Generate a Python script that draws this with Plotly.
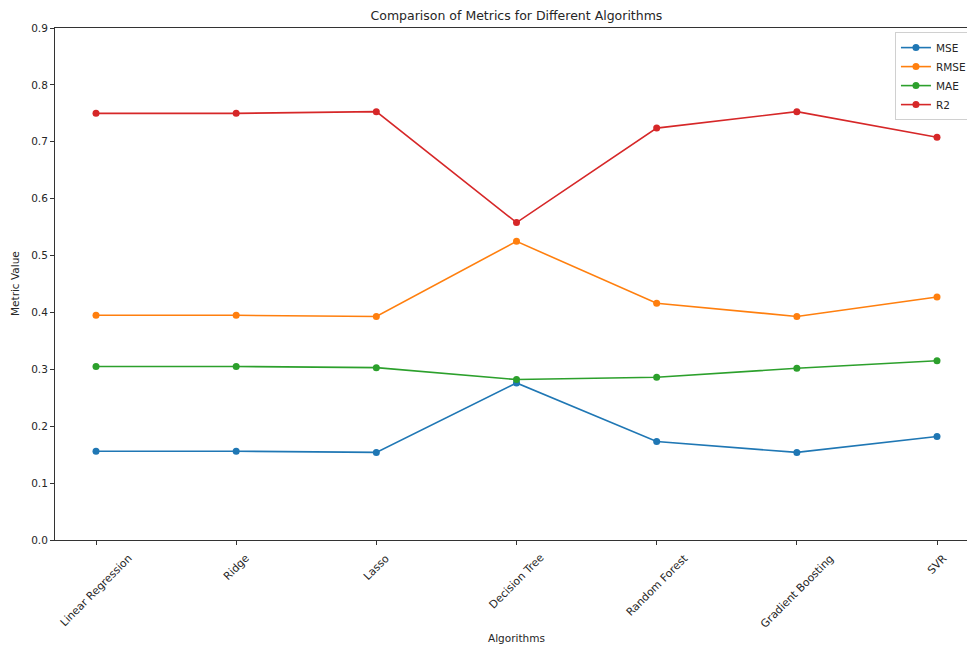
import plotly.graph_objects as go

# Algorithms compared and their evaluation metrics
algorithms = ["Linear Regression", "Ridge", "Lasso", "Decision Tree",
              "Random Forest", "Gradient Boosting", "SVR"]
mse = [0.156, 0.156, 0.154, 0.276, 0.173, 0.154, 0.182]
rmse = [0.395, 0.395, 0.393, 0.525, 0.416, 0.393, 0.427]
mae = [0.305, 0.305, 0.303, 0.282, 0.286, 0.302, 0.315]
r2 = [0.750, 0.750, 0.753, 0.558, 0.724, 0.753, 0.708]
y_ticks = [0.0, 0.1, 0.2, 0.3, 0.4, 0.5, 0.6, 0.7, 0.8, 0.9]

series = [("MSE", mse, "#1f77b4"), ("RMSE", rmse, "#ff7f0e"),
          ("MAE", mae, "#2ca02c"), ("R2", r2, "#d62728")]

FONT = "DejaVu Sans"
TXT = "#262626"

fig = go.Figure()
for name, vals, color in series:
    fig.add_trace(go.Scatter(
        x=list(range(len(algorithms))), y=vals, name=name, mode="lines+markers",
        line=dict(color=color, width=1.6),
        marker=dict(color=color, size=7),
    ))

annotations = []
# rotated category labels, centred under each tick
for i, label in enumerate(algorithms):
    annotations.append(dict(
        x=i, y=0, xref="x", yref="paper", text=label, showarrow=False,
        textangle=-45, xanchor="center", yanchor="top", yshift=-9,
        font=dict(family=FONT, size=10.8, color=TXT),
    ))
annotations.append(dict(
    x=0.506, y=0, xref="paper", yref="paper", text="Algorithms", showarrow=False,
    xanchor="center", yanchor="middle", yshift=-98,
    font=dict(family=FONT, size=10.5, color=TXT),
))
annotations.append(dict(
    x=0, y=0.5, xref="paper", yref="paper", text="Metric Value", showarrow=False,
    textangle=-90, xanchor="center", yanchor="middle", xshift=-40,
    font=dict(family=FONT, size=10.5, color=TXT),
))

fig.update_layout(
    width=967, height=647,
    margin=dict(l=55, r=0, t=28, b=107, autoexpand=False),
    paper_bgcolor="white", plot_bgcolor="white",
    title=dict(text="Comparison of Metrics for Different Algorithms",
               x=0.506, xref="paper", xanchor="center",
               y=1 - 16 / 647, yref="container", yanchor="middle",
               font=dict(family=FONT, size=12.5, color=TXT)),
    xaxis=dict(range=[-0.2925, 6.214], tickvals=list(range(len(algorithms))),
               showticklabels=False, ticks="outside", ticklen=4, tickcolor="#333",
               showgrid=False, zeroline=False, showline=True, linecolor="#333",
               linewidth=1, mirror=True),
    yaxis=dict(range=[0, 0.9], tickvals=y_ticks,
               ticktext=[f"{v:.1f}" for v in y_ticks],
               ticks="outside", ticklen=4, tickcolor="#333",
               tickfont=dict(family=FONT, size=10.5, color=TXT),
               showgrid=False, zeroline=False, showline=True, linecolor="#333",
               linewidth=1),
    legend=dict(x=0.921, y=0.992, xanchor="left", yanchor="top",
                bgcolor="white", bordercolor="#d0d0d0", borderwidth=1,
                font=dict(family=FONT, size=10.5, color=TXT),
                tracegroupgap=0, itemwidth=30),
    annotations=annotations,
    showlegend=True,
)

fig.write_html("out.html")
